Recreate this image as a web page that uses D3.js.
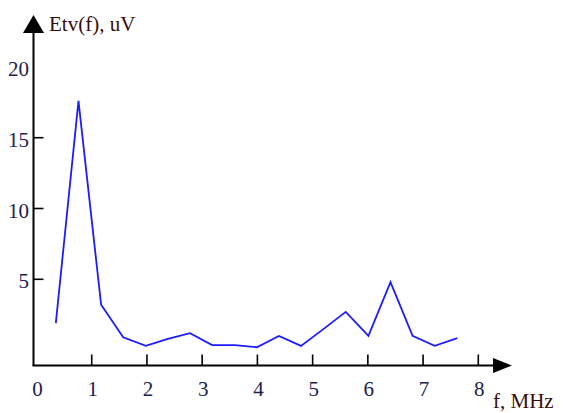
<!DOCTYPE html>
<html>
<head>
<meta charset="utf-8">
<script src="https://cdn.jsdelivr.net/npm/d3@7"></script>
<style>
  body { margin: 0; background: #fff; }
  svg { display: block; }
  text { font-family: "Liberation Serif", "Times New Roman", serif; }
</style>
</head>
<body>
<div id="chart"></div>
<script>
// f, MHz and Etv(f), uV
const freq = [0.35, 0.76, 1.17, 1.57, 1.98, 2.38, 2.78, 3.18, 3.59, 3.99,
              4.39, 4.79, 5.2, 5.6, 6.01, 6.41, 6.81, 7.21, 7.62];
const etv  = [1.9, 17.6, 3.2, 0.9, 0.3, 0.8, 1.2, 0.35, 0.35, 0.2,
              1.0, 0.3, 1.5, 2.7, 1.0, 4.8, 1.0, 0.3, 0.85];
const xTickLabels = [0, 1, 2, 3, 4, 5, 6, 7, 8];
const xTicks = [1, 2, 3, 4, 5, 6, 7, 8];
const yTickLabels = [5, 10, 15, 20];
const yTicks = [5, 10, 15];

const width = 563, height = 413;
const axisX = 33.5, axisY = 365.5;   // where the two axis lines sit
const labelColor = "#1c2150";

const svg = d3.select("#chart").append("svg")
  .attr("width", width)
  .attr("height", height);

const x = d3.scaleLinear().domain([0, 8]).range([36.5, 478.3]);
const y = d3.scaleLinear().domain([0, 20]).range([350.1, 66.9]);

// axes lines + arrows
svg.append("line")
  .attr("x1", axisX).attr("x2", axisX)
  .attr("y1", axisY).attr("y2", 32)
  .attr("stroke", "#000").attr("stroke-width", 2);
svg.append("path")
  .attr("d", `M${axisX - 10.5},33 L${axisX},15 L${axisX + 10.5},33 Z`)
  .attr("fill", "#000");

svg.append("line")
  .attr("x1", axisX - 1).attr("x2", 494)
  .attr("y1", axisY).attr("y2", axisY)
  .attr("stroke", "#000").attr("stroke-width", 2);
svg.append("path")
  .attr("d", `M493,${axisY - 7.5} L512,${axisY} L493,${axisY + 7.5} Z`)
  .attr("fill", "#000");

// x ticks (pointing up) and labels
svg.selectAll(".xtick").data(xTicks).enter()
  .append("line")
  .attr("class", "xtick")
  .attr("x1", d => x(d)).attr("x2", d => x(d))
  .attr("y1", axisY).attr("y2", axisY - 11)
  .attr("stroke", "#000").attr("stroke-width", 1.6);

svg.selectAll(".xlab").data(xTickLabels).enter()
  .append("text")
  .attr("class", "xlab")
  .attr("x", d => x(d) + 1)
  .attr("y", 396)
  .attr("text-anchor", "middle")
  .attr("font-size", 21)
  .attr("fill", labelColor)
  .text(d => d);

// y ticks (pointing right) and labels
svg.selectAll(".ytick").data(yTicks).enter()
  .append("line")
  .attr("class", "ytick")
  .attr("x1", axisX).attr("x2", axisX + 10)
  .attr("y1", d => y(d)).attr("y2", d => y(d))
  .attr("stroke", "#000").attr("stroke-width", 1.6);

svg.selectAll(".ylab").data(yTickLabels).enter()
  .append("text")
  .attr("class", "ylab")
  .attr("x", 29)
  .attr("y", d => y(d) + 9)
  .attr("text-anchor", "end")
  .attr("font-size", 21)
  .attr("fill", labelColor)
  .text(d => d);

// axis titles
svg.append("text")
  .attr("x", 49).attr("y", 31)
  .attr("font-size", 21)
  .attr("fill", "#3a0c0c")
  .text("Etv(f), uV");

svg.append("text")
  .attr("x", 493).attr("y", 408)
  .attr("font-size", 21)
  .attr("fill", "#3a0c0c")
  .text("f, MHz");

// the curve
const pts = freq.map((f, i) => [f, etv[i]]);
const line = d3.line().x(d => x(d[0])).y(d => y(d[1]));

svg.append("path")
  .datum(pts)
  .attr("d", line)
  .attr("fill", "none")
  .attr("stroke", "#1c1cff")
  .attr("stroke-width", 1.8);
</script>
</body>
</html>
